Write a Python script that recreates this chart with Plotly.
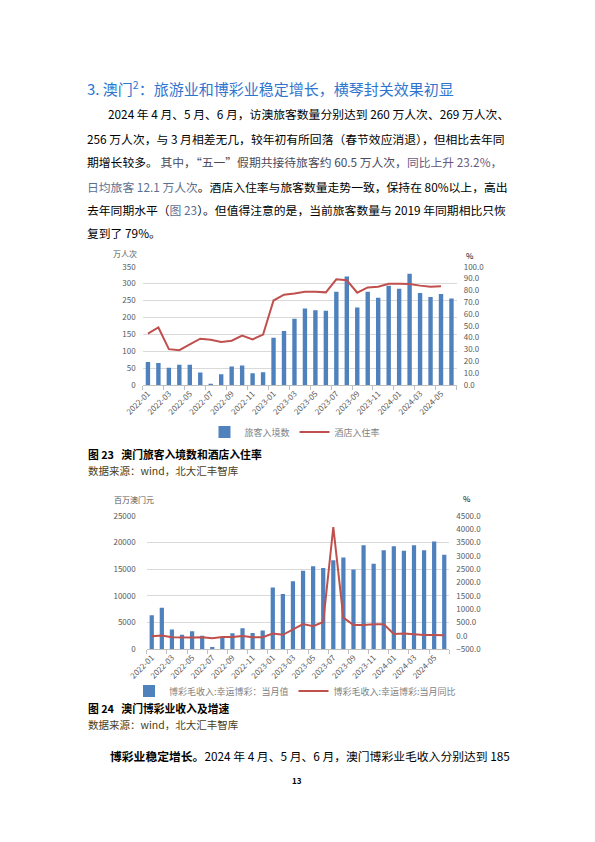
import plotly.graph_objects as go

# ---------- data ----------
months = ["2022-01", "2022-02", "2022-03", "2022-04", "2022-05", "2022-06",
          "2022-07", "2022-08", "2022-09", "2022-10", "2022-11", "2022-12",
          "2023-01", "2023-02", "2023-03", "2023-04", "2023-05", "2023-06",
          "2023-07", "2023-08", "2023-09", "2023-10", "2023-11", "2023-12",
          "2024-01", "2024-02", "2024-03", "2024-04", "2024-05", "2024-06"]

# 旅客入境数 (万人次)
visitors = [68, 65, 51, 60, 60, 37, 3, 32, 55, 58, 35, 38,
            140, 160, 196, 226, 221, 220, 276, 321, 229, 276, 258, 294,
            285, 329, 272, 260, 269, 256]
# 酒店入住率 (%)
hotel_rate = [43.4, 48.6, 30.3, 29.4, 34.3, 39.1, 38.3, 36.3, 37.4, 41.7, 38.6, 42.6,
              71.4, 76.3, 77.4, 78.9, 78.9, 78.3, 89.3, 88.5, 78.0, 82.5, 83.1, 85.6,
              85.6, 85.4, 84.0, 83.1, 83.4, None]

# 博彩毛收入:幸运博彩:当月值 (百万澳门元)
ggr = [6344, 7757, 3668, 2677, 3341, 2477, 398, 2189, 2962, 3899, 2997, 3482,
       11580, 10324, 12738, 14722, 15565, 15207, 16662, 17213, 14937, 19501, 16036, 18566,
       19337, 18486, 19503, 18545, 20188, 17694]
# 博彩毛收入:幸运博彩:当月同比 (%)
ggr_yoy = [-21, 6, -56, -68, -68, -62, -95, -51, -50, -11, -56, -56,
           82, 33, 247, 440, 360, 514, 4085, 680, 400, 400, 430, 430,
           67, 79, 53, 26, 29.7, 16.4]

W, H = 595, 842
OFF = 8  # page body margin


def fx(x):
    return (x - OFF) / W


def fy(y):
    return 1 - (y - OFF) / H


BLUE = "#4f81bd"
RED = "#c0504d"
CJK = "Noto Sans CJK SC"
TICK = dict(family=CJK, size=8, color="#595959")

fig = go.Figure()

fig.add_trace(go.Bar(x=months, y=visitors, name="旅客入境数", marker_color=BLUE,
                     xaxis="x", yaxis="y", legend="legend"))
fig.add_trace(go.Scatter(x=months, y=hotel_rate, name="酒店入住率", mode="lines",
                         line=dict(color=RED, width=2), xaxis="x", yaxis="y2",
                         legend="legend"))
fig.add_trace(go.Bar(x=months, y=ggr, name="博彩毛收入:幸运博彩：当月值", marker_color=BLUE,
                     xaxis="x2", yaxis="y3", legend="legend2"))
fig.add_trace(go.Scatter(x=months, y=ggr_yoy, name="博彩毛收入:幸运博彩:当月同比", mode="lines",
                         line=dict(color=RED, width=2), xaxis="x2", yaxis="y4",
                         legend="legend2"))

xcommon = dict(type="category", tickmode="linear", tick0=0, dtick=2, tickangle=-45,
               tickfont=TICK, showgrid=False, showline=True, linecolor="#bfbfbf",
               ticks="outside", tickson="boundaries", ticklen=4, tickcolor="#bfbfbf",
               automargin=False)
ycommon = dict(tickfont=TICK, zeroline=False, ticklabelstandoff=6, automargin=False)

fig.update_layout(
    template="none",
    width=W, height=H, margin=dict(l=0, r=0, t=0, b=0, pad=0, autoexpand=False),
    paper_bgcolor="white", plot_bgcolor="white",
    bargap=0.58, showlegend=True,
    xaxis=dict(domain=[fx(142.7), fx(456.7)], anchor="y", **xcommon),
    yaxis=dict(domain=[fy(385), fy(266.7)], range=[0, 350], dtick=50,
               gridcolor="#d9d9d9", **ycommon),
    yaxis2=dict(overlaying="y", side="right", range=[0, 100], dtick=10, tickformat=".1f",
                showgrid=False, anchor="x", **ycommon),
    xaxis2=dict(domain=[fx(146.7), fx(449.3)], anchor="y3", **xcommon),
    yaxis3=dict(domain=[fy(649), fy(516)], range=[0, 25000], dtick=5000, tickformat="d",
                gridcolor="#d9d9d9", **ycommon),
    yaxis4=dict(overlaying="y3", side="right", range=[-500, 4500], dtick=500,
                tickformat=".1f", showgrid=False, anchor="x2", **ycommon),
    legend=dict(orientation="h", x=fx(295), xanchor="center", y=fy(432), yanchor="middle",
                font=dict(family=CJK, size=9, color="#7f7f7f"), bgcolor="rgba(0,0,0,0)"),
    legend2=dict(orientation="h", x=fx(295), xanchor="center", y=fy(691), yanchor="middle",
                 font=dict(family=CJK, size=9, color="#7f7f7f"), bgcolor="rgba(0,0,0,0)"),
)

body = dict(family=CJK, size=11.8, color="#000000")
ann = []


def text(x, y, s, font, anchor="left"):
    ann.append(dict(x=fx(x), y=fy(y), xref="paper", yref="paper", text=s,
                    showarrow=False, xanchor=anchor, yanchor="middle", font=font))


text(85, 88, "3. 澳门<sup>2</sup>：旅游业和博彩业稳定增长，横琴封关效果初显",
     dict(family=CJK, size=15, color="#2e75d0"))
text(106, 114, "2024 年 4 月、5 月、6 月，访澳旅客数量分别达到 260 万人次、269 万人次、", body)
text(85, 139, "256 万人次，与 3 月相差无几，较年初有所回落（春节效应消退），但相比去年同", body)
text(85, 162, "期增长较多。 <span style='color:#4a4a5a'>其中，“五一”假期共接待旅客约 60.5 万人次，</span>"
     "<span style='color:#6a5a80'>同比上升 23.2%，</span>", body)
text(85, 186, "<span style='color:#5a7090'>日均旅客 12.1 万人次</span>。酒店入住率与旅客数量走势一致，保持在 80%以上，高出", body)
text(85, 209, "去年同期水平（<span style='color:#5a7090'>图 23</span>）。但值得注意的是，当前旅客数量与 2019 年同期相比只恢", body)
text(85, 232, "复到了 79%。", body)

text(111, 254, "万人次", dict(family=CJK, size=8, color="#595959"))
text(464, 256, "%", dict(family=CJK, size=8, color="#000000"))
text(86, 454, "<b>图 23   澳门旅客入境数和酒店入住率</b>", dict(family=CJK, size=10.8, color="#000000"))
text(86, 470, "数据来源：wind，北大汇丰智库", dict(family=CJK, size=10.5, color="#4a4020"))

text(112, 500, "百万澳门元", dict(family=CJK, size=8, color="#595959"))
text(461, 498, "%", dict(family=CJK, size=8, color="#000000"))
text(86, 708, "<b>图 24   澳门博彩业收入及增速</b>", dict(family=CJK, size=10.8, color="#000000"))
text(86, 724, "数据来源：wind，北大汇丰智库", dict(family=CJK, size=10.5, color="#4a4020"))

text(108, 755, "<b>博彩业稳定增长。</b>2024 年 4 月、5 月、6 月，澳门博彩业毛收入分别达到 185", body)
text(297, 780, "<b>13</b>", dict(family=CJK, size=8, color="#000000"), anchor="center")

fig.update_layout(annotations=ann)

fig.write_html("out.html")
